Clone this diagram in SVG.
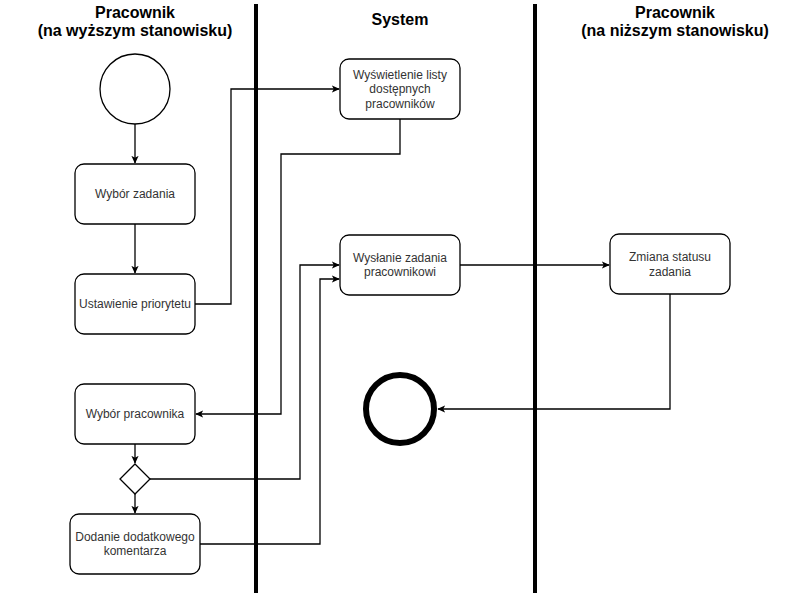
<svg xmlns="http://www.w3.org/2000/svg" width="810" height="597" viewBox="0 0 810 597">
<style>
.box{fill:#fff;stroke:#000;stroke-width:1.3}
.t{font-family:"Liberation Sans",Arial,sans-serif;font-size:12px;fill:#333;text-anchor:middle}
.h{font-family:"Liberation Sans",Arial,sans-serif;font-size:16px;font-weight:bold;fill:#000;text-anchor:middle}
.c{fill:none;stroke:#000;stroke-width:1.3}
.lane{stroke:#000;stroke-width:4}
</style>
<defs>
<marker id="arr" viewBox="0 0 10 10" refX="9" refY="5" markerWidth="8" markerHeight="8" markerUnits="userSpaceOnUse" orient="auto">
<path d="M0,0.5 L10,5 L0,9.5 L2.5,5 z" fill="#000"/>
</marker>
</defs>
<rect width="810" height="597" fill="#fff"/>
<g id="lanes">
<line class="lane" x1="256" y1="4" x2="256" y2="593"/>
<line class="lane" x1="535" y1="4" x2="535" y2="593"/>
<text class="h" x="135" y="18">Pracownik</text>
<text class="h" x="135" y="36">(na wyższym stanowisku)</text>
<text class="h" x="400" y="25">System</text>
<text class="h" x="675" y="18">Pracownik</text>
<text class="h" x="675" y="36">(na niższym stanowisku)</text>
</g>
<g id="connectors">
<path class="c" d="M135,124 V163" marker-end="url(#arr)"/>
<path class="c" d="M135,224 V273" marker-end="url(#arr)"/>
<path class="c" d="M195,304 H231 V89 H339" marker-end="url(#arr)"/>
<path class="c" d="M400,119 V154 H281 V414 H196" marker-end="url(#arr)"/>
<path class="c" d="M135,444 V463" marker-end="url(#arr)"/>
<path class="c" d="M135,494 V513" marker-end="url(#arr)"/>
<path class="c" d="M150,479 H300 V265 H339" marker-end="url(#arr)"/>
<path class="c" d="M200,544 H320 V279 H339" marker-end="url(#arr)"/>
<path class="c" d="M460,265 H609" marker-end="url(#arr)"/>
<path class="c" d="M670,294 V409 H438" marker-end="url(#arr)"/>
</g>
<g id="start"><circle cx="135" cy="89" r="35" fill="#fff" stroke="#000" stroke-width="1.3"/></g>
<g id="wybor-zadania"><rect class="box" x="75" y="164" width="120" height="60" rx="9"/><text class="t" x="135" y="198">Wybór zadania</text></g>
<g id="ustawienie"><rect class="box" x="75" y="274" width="120" height="60" rx="9"/><text class="t" x="135" y="308">Ustawienie priorytetu</text></g>
<g id="wybor-pracownika"><rect class="box" x="75" y="384" width="120" height="60" rx="9"/><text class="t" x="135" y="418">Wybór pracownika</text></g>
<g id="decision"><path class="box" d="M135,464 L150,479 L135,494 L120,479 z"/></g>
<g id="dodanie"><rect class="box" x="70" y="514" width="130" height="60" rx="9"/><text class="t" x="135" y="541">Dodanie dodatkowego</text><text class="t" x="135" y="555">komentarza</text></g>
<g id="wyswietlenie"><rect class="box" x="340" y="59" width="120" height="60" rx="9"/><text class="t" x="400" y="79">Wyświetlenie listy</text><text class="t" x="400" y="93">dostępnych</text><text class="t" x="400" y="108">pracowników</text></g>
<g id="wyslanie"><rect class="box" x="340" y="235" width="120" height="60" rx="9"/><text class="t" x="400" y="262">Wysłanie zadania</text><text class="t" x="400" y="276">pracownikowi</text></g>
<g id="zmiana"><rect class="box" x="610" y="234" width="120" height="60" rx="9"/><text class="t" x="670" y="261">Zmiana statusu</text><text class="t" x="670" y="276">zadania</text></g>
<g id="end"><circle cx="400" cy="409" r="34" fill="#fff" stroke="#000" stroke-width="6"/></g>
</svg>
